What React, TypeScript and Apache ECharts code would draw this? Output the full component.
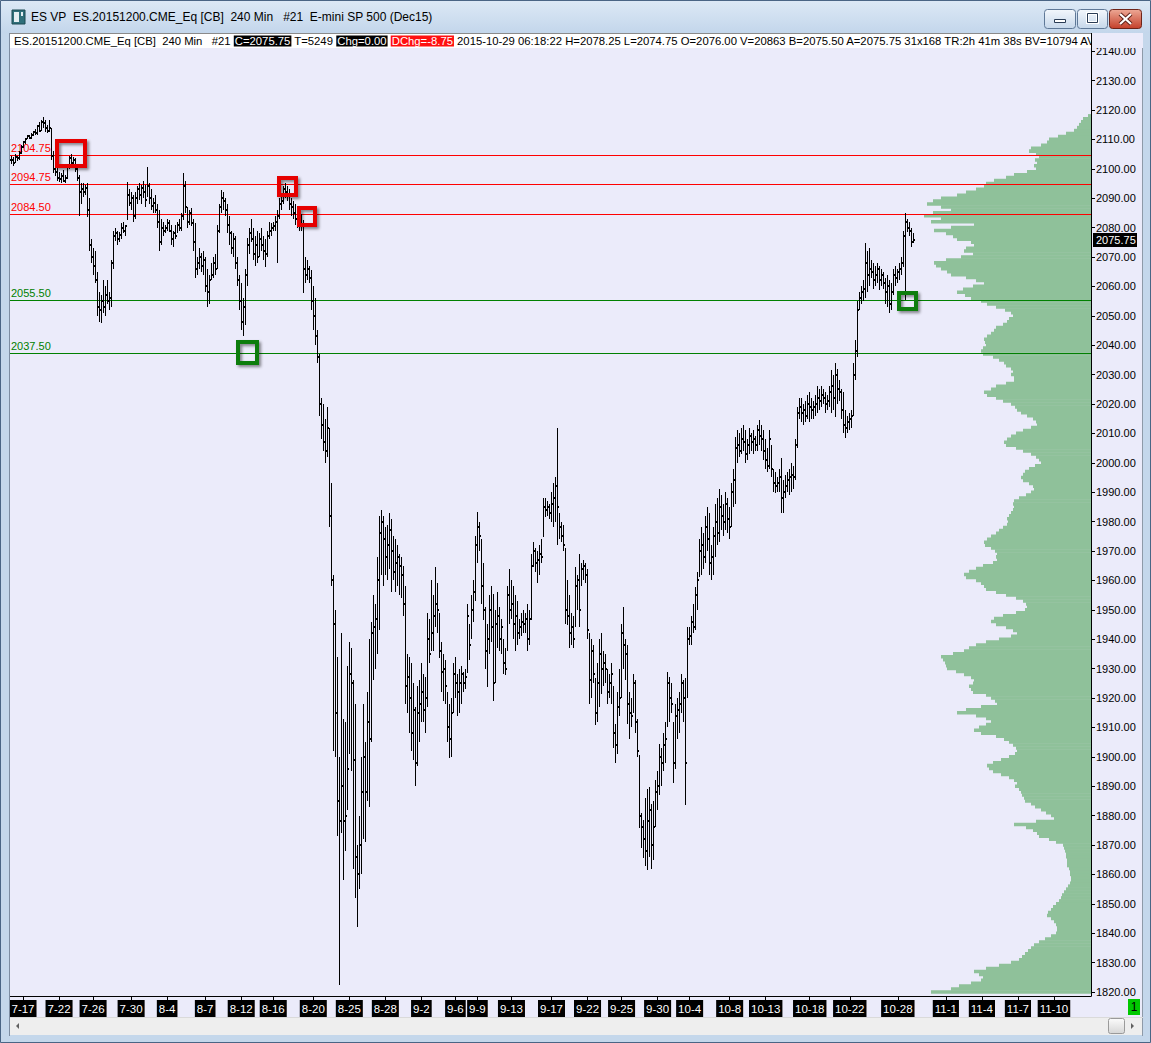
import React, { useEffect, useRef } from 'react';
import * as echarts from 'echarts';

const W = 1151;
const H = 1043;
const FONT = '"Liberation Sans", Arial, sans-serif';
const BG = '#ebebfa';

// ---- 240-min bars (one per slot, in order) ----
const barHigh = [
  2104.5,2104,2105,2104.5,2106,2108,2109.5,2110.5,2111.5,2111.5,
  2112,2113,2113.5,2115,2116,2116.75,2117.5,2116.5,2115,2116.5,
  2114,2106,2103,2101,2099,2098.5,2099.5,2098,2101.5,2104.5,
  2105,2104,2103.5,2101,2098,2095,2095,2094.5,2095,2090,
  2076,2073,2072,2065,2058,2057,2062,2060,2062,2058,
  2069,2079,2080,2079,2078.5,2081.5,2082,2081,2095.5,2093,
  2092,2091,2092,2094,2095,2094.5,2096,2094.5,2100.5,2095,
  2093,2090,2091,2088,2086,2083,2082,2081,2083,2082.5,
  2081,2079,2081,2082,2083,2085,2098.5,2096,2087,2086,
  2086.5,2083,2081.5,2070,2073,2071.5,2072,2070,2066,2064,
  2068,2070,2071,2081,2088,2092.75,2092,2090,2088,2084,
  2079,2078,2077,2070,2064,2061,2056,2066,2076.5,2080,
  2083,2080,2077,2079,2078,2080,2077,2076,2079,2082,
  2081.5,2082,2084,2086,2090,2091,2094,2095,2094,2093,
  2090,2089,2088,2086,2085,2084.5,2082.5,2070,2069,2067,
  2065.5,2060,2056,2045,2037,2022,2020,2015,2019,2012,
  1993,1962,1950,1934,1900,1942,1913,1912,1931,1939,
  1937,1926,1918,1870,1880,1900,1918,1905,1922,1940,
  1946,1955,1952,1968,1982,1984,1982,1978,1979,1983,
  1981,1975,1974,1972,1969,1968,1965,1958,1935,1934,
  1932,1925,1917,1924,1926,1932,1928,1927,1949,1947,
  1960,1955,1964.5,1959,1949,1939,1935,1933,1922,1918,
  1920,1932,1934,1928,1930,1931,1929,1930,1952,1945,
  1955,1960,1975,1983.25,1980,1974,1966,1951,1945,1955,
  1958,1955.5,1950,1956,1951,1947,1940,1937,1958,1964,
  1960,1958,1955,1953,1947,1949,1950,1949,1952,1950,
  1969,1973,1971,1970,1972,1974,1988,1988,1987,1986,
  1990,1993,1995,2011.75,1983,1980,1979,1971,1960,1955,
  1949,1948,1964.5,1962,1969,1966,1967,1966,1964,1942,
  1940,1938,1926.75,1932,1940,1942,1936,1935,1930,1928,
  1932,1924,1911,1922,1930,1945,1951,1940,1938,1922,
  1920,1928,1926,1913,1900.5,1881,1878.5,1886,1889,1889.75,
  1884,1885,1892,1895,1904.5,1903,1908,1912,1929,1927,
  1925,1912,1918,1920,1922,1928,1926,1926.75,1944,1944,
  1948,1952,1957.75,1963,1974,1978,1976,1982,1985,1983,
  1972,1978,1986,1988,1991,1989,1986,1990,1988,1985,
  1993,1998,2008.75,2011,2010,2012,2013,2011,2008,2012,
  2010,2011,2009,2013,2014.5,2013,2011,2008,2005,2011,
  2006,1998,1997,1995,1998,2001.5,1994,1996,1997,1998,
  2000,1999,2008,2019,2022,2022,2020,2021,2023,2024,
  2022,2021,2023,2026,2025,2026,2025,2024,2023,2026,
  2031.5,2030,2034,2032,2028,2025,2024,2018,2016,2017,
  2018,2034,2041.75,2055,2058,2060,2062,2074.75,2072,2073,
  2069,2068,2067,2068,2067,2066,2065,2063,2064,2062,
  2061,2066,2067,2066,2068,2070,2079,2085,2083,2082,
  2080,2078.25,
];
const barLow = [
  2101.5,2101,2102,2102.5,2103,2105,2107,2108.5,2110,2110.25,
  2110,2111,2111.5,2111.5,2112.5,2113,2114,2112.5,2112,2112.5,
  2103,2098.5,2097.5,2096,2095.5,2095,2095.5,2095,2096.5,2100,
  2101.5,2100.5,2099,2096,2084,2088,2090.5,2091,2083.5,2072,
  2068,2064,2061,2050,2048,2047.5,2051,2050,2054,2052,
  2053,2066,2075.5,2074,2075,2076,2078,2077,2082.5,2087.5,
  2086,2082,2083,2088,2089.5,2088,2090,2087,2090.5,2088,
  2086,2085,2085,2080,2072,2074,2077,2078,2079,2078.5,
  2074,2073.5,2076,2078,2079,2079,2082.5,2085,2080,2081,
  2080.5,2072,2063,2064,2066,2065,2064,2058,2053,2054,
  2062,2063,2064,2066,2078,2085,2086,2084,2078,2074,
  2071,2070,2066,2060,2052,2045,2043,2047,2060,2071,
  2075,2069,2067,2068,2070,2072,2069,2066.5,2070,2076,
  2077,2079,2079,2068,2083,2086,2088,2090,2089,2086,
  2084,2083,2081,2080,2079,2079,2057.75,2061,2062,2061,
  2052,2045,2040,2034,2016,2008,2004,2000,2002,1978,
  1958,1902,1900,1873,1822.25,1874,1858,1868,1882,1901,
  1895,1862,1852,1842,1855,1860,1872,1871,1885,1883,
  1905,1926,1930,1935,1943,1962,1958,1962,1960,1964,
  1956,1960,1956,1958,1955,1954,1948,1918,1915,1908,
  1902,1899,1890,1897,1905,1912,1912,1908,1917,1932,
  1936,1936,1944,1942,1933.5,1922,1919,1918,1905,1899.5,
  1900,1915,1920,1914,1915,1918,1922,1923,1928.5,1933,
  1940,1946,1953,1966,1970,1952,1946.5,1930,1923.75,1935,
  1939,1919,1925,1937,1936,1935,1928,1927.75,1936,1945,
  1947,1940,1936,1938,1940,1941,1942,1942,1936,1938,
  1946.5,1964.5,1963,1959,1962,1966,1974.75,1981.5,1982,1981,
  1980,1978,1980,1972,1974,1973,1970,1945,1944.75,1937,
  1938,1937,1944,1950,1944,1958,1960,1959,1940,1918,
  1920,1925,1910.75,1912,1917,1921.5,1924,1925,1918,1920,
  1918,1903,1898,1901,1914,1920,1930,1926,1911,1906,
  1910,1915,1908,1900,1875.75,1869,1865.5,1863,1861.5,1866,
  1862,1865,1876,1882,1887,1890,1895,1898,1910,1912,
  1915,1891,1896,1906,1908,1915,1912,1883.5,1920,1938,
  1938,1942,1943,1950,1961,1962,1964,1966,1970,1962,
  1960,1962,1968,1972,1973,1977,1975,1977,1976,1974,
  1978,1985,1986,2000,2002,2003,2004,2000,2001,2003,
  2004,2003,2004,2004,2006,2004,2001,1998,1996.75,1998,
  1995,1990,1989.75,1990,1990,1983,1983,1988,1990,1989,
  1990,1991,1994,2005,2015,2014,2013,2014,2015,2014,
  2015,2015,2016,2017,2018,2019,2020,2017,2018,2019,
  2017,2018,2015.5,2020,2021,2015,2010,2008.5,2010,2011,
  2012,2016,2028,2036,2052,2054,2055,2056,2058,2060,
  2063,2059,2060,2061,2058.75,2060,2059,2054,2053,2051,
  2052,2057,2060,2061,2062,2064,2066.5,2055.25,2078.5,2077,
  2073.25,2074.75,
];
const barClose = [
  2103,2102,2104,2103.5,2105.5,2107.5,2109,2110,2111,2110.5,
  2111.5,2112.5,2112,2114.5,2113,2116,2115.5,2114,2113,2114,
  2104.5,2100,2099,2097,2096.5,2097.5,2096,2097,2101,2103.5,
  2102,2103,2100,2097,2092,2093,2092,2093.5,2086,2074,
  2070,2067,2062,2053,2052,2055,2053,2057,2055,2056,
  2068,2077,2078,2076,2077.5,2080,2079,2080.5,2091,2088.5,
  2090,2084,2090,2093,2091,2093.5,2092,2089.5,2094,2090,
  2087.5,2088.5,2086,2082,2075,2080,2079,2080,2081.5,2079,
  2076,2078,2077,2081,2080,2084,2094,2087,2082,2085,
  2081.5,2075,2066,2068,2070,2067,2069,2060,2058,2062,
  2064,2068,2066,2079,2087,2090,2089,2086,2081,2078,
  2073,2076,2068,2062,2055,2048,2053,2064,2074,2078,
  2076,2071,2074,2070,2076,2074,2072,2071,2077,2079,
  2080,2080.5,2082,2084,2088,2089,2093,2092,2091,2088,
  2087,2085,2083,2082,2083,2081,2066,2064,2066,2063,
  2055,2050,2043,2036,2020,2013,2007,2004,2012,1982,
  1960,1945,1915,1885,1878,1890,1878,1880,1896,1928,
  1925,1899,1866,1860,1870,1888,1900,1888,1912,1906,
  1942,1944,1947,1960,1976,1980,1974,1968,1972,1977,
  1970,1963,1966,1968,1965,1962,1952,1924,1927,1920,
  1908,1916,1898,1915,1918,1922,1916,1920,1940,1935,
  1942,1948,1952,1950,1936,1929,1930,1924,1910,1906,
  1915,1928,1925,1922,1925,1928,1925,1927,1948,1938,
  1950,1956,1972,1978,1975,1958,1950,1936,1940,1950,
  1944,1925,1945,1948,1940,1944,1932,1930,1955,1950,
  1952,1945,1948,1942,1944,1946,1945,1947,1940,1947,
  1965,1970,1966,1967,1969,1968,1985,1984,1985,1983,
  1986,1988,1992,1985,1978,1975,1972,1950,1948,1942,
  1944,1940,1958,1960,1950,1964,1965,1962,1943,1926,
  1936,1928,1915,1925,1935,1930,1932,1930,1922,1925,
  1928,1908,1904,1917,1920,1942,1938,1935,1918,1915,
  1914,1925,1912,1902,1880,1876,1872,1868,1878,1882,
  1870,1876,1888,1890,1900,1898,1904,1906,1925,1920,
  1918,1898,1914,1916,1918,1925,1920,1898,1940,1941,
  1946,1944,1955,1960,1970,1972,1968,1978,1974,1966,
  1968,1975,1980,1976,1985,1982,1980,1986,1981,1978,
  1990,1994,2005,2006,2004,2008,2007,2003,2006,2009,
  2007,2008,2006,2011,2009,2008,2004,2001,1999,2008,
  1998,1993,1992,1993,1995,1988,1990,1992,1994,1995,
  1996,1995,2006,2017,2019,2017,2018,2016,2020,2019,
  2018,2019,2020,2022,2021,2023,2022,2020,2021,2024,
  2026,2022,2030,2025,2024,2018,2013,2012,2014,2015,
  2016,2030,2038,2052,2056,2058,2059,2068,2064,2066,
  2065,2062,2064,2066,2062,2064,2061,2058,2060,2054,
  2058,2064,2063,2065,2066,2068,2077,2082,2080,2079,
  2075,2075.75,
];

// ---- time axis ----
const totalSlots = 540;
const dateLabels = ['7-17','7-22','7-26','7-30','8-4','8-7','8-12','8-16','8-20','8-25','8-28','9-2','9-6','9-9','9-13','9-17','9-22','9-25','9-30','10-4','10-8','10-13','10-18','10-22','10-28','11-1','11-4','11-7','11-10'];
const dateLabelSlots = [6,24,41,60,78,97,115,131,151,169,187,205,222,233,250,270,288,305,323,339,359,377,399,419,443,467,485,503,521];

// ---- price axis ----
const yTickValues = [1820,1830,1840,1850,1860,1870,1880,1890,1900,1910,1920,1930,1940,1950,1960,1970,1980,1990,2000,2010,2020,2030,2040,2050,2060,2070,2080,2090,2100,2110,2120,2130,2140];
const yMin = 1818.64;
const yMax = 2145.84;

// ---- horizontal levels ----
const levelPrices = [2104.75, 2094.75, 2084.5, 2055.5, 2037.5];
const levelKinds = ['r', 'r', 'r', 'g', 'g'];

// ---- annotation boxes ----
const boxSlots = [30, 138, 148, 118, 448];
const boxPrices = [2105.1, 2093.9, 2083.7, 2037.45, 2055.0];
const boxKinds = ['r', 'r', 'r', 'g', 'g'];
const boxSizes = [[32, 29], [21, 21], [20, 21], [23, 25], [21, 20]];

// ---- volume profile, one value per 1-point level from profileStart ----
const profileStart = 1820;
const profileVolume = [
  160,140,132,120,110,108,112,117,105,92,
  80,72,69,66,63,60,57,52,46,40,
  35,34,34,35,37,40,44,43,40,38,
  35,32,30,29,27,25,23,21,20,20,
  21,21,22,24,24,24,25,25,26,27,
  28,35,42,52,54,58,65,77,55,37,
  40,45,50,56,60,66,67,69,70,72,
  76,74,77,82,90,98,102,104,98,90,
  82,76,74,75,78,82,87,95,110,117,
  112,105,100,105,115,134,125,110,94,96,
  100,105,118,120,122,118,117,120,127,135,
  144,145,146,148,150,138,127,122,115,105,
  92,80,74,78,85,95,100,97,88,75,
  66,64,65,68,75,85,95,105,107,110,
  115,125,127,122,115,108,98,94,95,94,
  96,100,106,107,104,100,95,92,88,84,
  83,84,82,80,78,77,78,77,72,65,
  60,57,58,62,68,70,68,66,62,56,
  50,52,55,60,68,75,85,87,84,80,
  75,68,60,54,55,58,64,70,74,76,
  80,88,95,104,107,100,95,85,77,77,
  80,78,80,85,87,92,98,108,110,108,
  105,106,107,104,100,97,95,88,84,82,
  78,80,86,95,104,110,120,126,134,128,
  118,107,115,125,140,144,150,155,157,145,
  130,118,127,125,117,120,134,138,145,157,
  140,117,160,150,167,158,140,150,164,158,
  150,134,125,115,107,105,97,85,77,64,
  55,57,54,56,52,55,62,60,50,44,
  42,33,25,17,14,12,10,8,3,
];
const profileAxisMax = 1081;

const titleText = 'ES VP\u00a0 ES.20151200.CME_Eq [CB]\u00a0 240 Min\u00a0\u00a0 #21\u00a0 E-mini SP 500 (Dec15)';
const infoRich =
  '{n|ES.20151200.CME_Eq [CB]\u00a0 240 Min\u00a0\u00a0 #21 }{b|C=2075.75}{n| T=5249 }{b|Chg=0.00}{n| }{r|DChg=-8.75}' +
  '{n| 2015-10-29 06:18:22 H=2078.25 L=2074.75 O=2076.00 V=20863 B=2075.50 A=2075.75 31x168 TR:2h 41m 38s BV=10794 AV=1}';

const COLORS: Record<string, string> = { r: '#ff0000', g: '#008000' };
const BOX_COLORS: Record<string, string> = { r: '#e60000', g: '#0b7d0b' };
const INFO_FS = 11.3;

function grad(c1: string, c2: string) {
  return new echarts.graphic.LinearGradient(0, 0, 0, 1, [
    { offset: 0, color: c1 },
    { offset: 1, color: c2 },
  ]);
}

function buildOption() {
  const slotNames = Array.from({ length: totalSlots }, (_, i) => {
    const k = dateLabelSlots.indexOf(i);
    return k >= 0 ? dateLabels[k] : '';
  });
  const showSlot = (_idx: number, val: string) => val !== '';

  const bars = barHigh.map((h, i) => [i, i === 0 ? barClose[0] : barClose[i - 1], barClose[i], barLow[i], h]);
  const profile = profileVolume.map((v, k) => [v, profileStart + k]);
  const levels = levelPrices.map((p, k) => [0, p, k]);
  const boxes = boxSlots.map((s, k) => [s, boxPrices[k], k]);
  const lastIdx = barClose.length - 1;

  const frame = '#c4d7eb';
  const graphic: any[] = [
    // title bar
    { type: 'rect', z: 100, shape: { x: 0, y: 0, width: W, height: 33 }, style: { fill: grad('#dde9f6', '#c3d6eb') } },
    { type: 'rect', z: 101, shape: { x: 12, y: 10, width: 13, height: 14 }, style: { fill: '#2f6f7a', stroke: '#1d4a52', lineWidth: 1 } },
    { type: 'rect', z: 102, shape: { x: 14, y: 12, width: 5, height: 10 }, style: { fill: '#e4eef2' } },
    { type: 'rect', z: 102, shape: { x: 21, y: 12, width: 2, height: 4 }, style: { fill: '#e4eef2' } },
    { type: 'text', z: 101, x: 31, y: 17, style: { text: titleText, fill: '#000', fontSize: 12, fontFamily: FONT, verticalAlign: 'middle', align: 'left' } },
    // window buttons
    { type: 'rect', z: 101, shape: { x: 1044.5, y: 9.5, width: 31, height: 19, r: 3 }, style: { fill: grad('#f3f7fc', '#c6d7ea'), stroke: '#5f7897', lineWidth: 1 } },
    { type: 'rect', z: 102, shape: { x: 1054.5, y: 19.5, width: 11, height: 3 }, style: { fill: '#fff', stroke: '#2a3c55', lineWidth: 1 } },
    { type: 'rect', z: 101, shape: { x: 1077.5, y: 9.5, width: 30, height: 19, r: 3 }, style: { fill: grad('#f3f7fc', '#c6d7ea'), stroke: '#5f7897', lineWidth: 1 } },
    { type: 'rect', z: 102, shape: { x: 1087.5, y: 13.5, width: 10, height: 9 }, style: { fill: 'none', stroke: '#fff', lineWidth: 3 } },
    { type: 'rect', z: 103, shape: { x: 1087.5, y: 13.5, width: 10, height: 9 }, style: { fill: 'none', stroke: '#2a3c55', lineWidth: 1 } },
    { type: 'rect', z: 101, shape: { x: 1109.5, y: 9.5, width: 32, height: 19, r: 3 }, style: { fill: grad('#eda895', '#c43f2a'), stroke: '#6e2419', lineWidth: 1 } },
    { type: 'line', z: 102, shape: { x1: 1120, y1: 14, x2: 1131, y2: 24 }, style: { stroke: '#5a1e16', lineWidth: 4 } },
    { type: 'line', z: 102, shape: { x1: 1131, y1: 14, x2: 1120, y2: 24 }, style: { stroke: '#5a1e16', lineWidth: 4 } },
    { type: 'line', z: 103, shape: { x1: 1120, y1: 14, x2: 1131, y2: 24 }, style: { stroke: '#fff', lineWidth: 2.2 } },
    { type: 'line', z: 103, shape: { x1: 1131, y1: 14, x2: 1120, y2: 24 }, style: { stroke: '#fff', lineWidth: 2.2 } },
    // side and bottom frame
    { type: 'rect', z: 100, shape: { x: 0, y: 33, width: 10, height: H - 33 }, style: { fill: frame } },
    { type: 'line', z: 101, shape: { x1: 9.5, y1: 33, x2: 9.5, y2: 1036 }, style: { stroke: '#7d8da2', lineWidth: 1 } },
    { type: 'rect', z: 100, shape: { x: 1143, y: 33, width: 8, height: H - 33 }, style: { fill: frame } },
    { type: 'line', z: 101, shape: { x1: 1142.5, y1: 33, x2: 1142.5, y2: 1036 }, style: { stroke: '#8e9aa8', lineWidth: 1 } },
    { type: 'rect', z: 100, shape: { x: 0, y: 1035, width: W, height: 8 }, style: { fill: frame } },
    { type: 'rect', z: 110, shape: { x: 0.5, y: 0.5, width: W - 1, height: H - 1 }, style: { fill: 'none', stroke: '#4a6585', lineWidth: 1 } },
    // scrollbar
    { type: 'rect', z: 100, shape: { x: 10, y: 1017, width: 1133, height: 18 }, style: { fill: '#eeeeee' } },
    { type: 'line', z: 101, shape: { x1: 10, y1: 1017.5, x2: 1143, y2: 1017.5 }, style: { stroke: '#dadada', lineWidth: 1 } },
    { type: 'polygon', z: 101, shape: { points: [[16, 1026], [19, 1023], [19, 1029]] }, style: { fill: '#606060' } },
    { type: 'rect', z: 101, shape: { x: 1108.5, y: 1018.5, width: 16, height: 15, r: 2 }, style: { fill: grad('#fbfbfb', '#d6d6d6'), stroke: '#9a9a9a', lineWidth: 1 } },
    { type: 'polygon', z: 101, shape: { points: [[1131, 1023], [1134, 1026], [1131, 1029]] }, style: { fill: '#606060' } },
    // green status box
    { type: 'rect', z: 101, shape: { x: 1128, y: 999, width: 12, height: 16 }, style: { fill: '#00c800' } },
    { type: 'text', z: 102, x: 1134, y: 1007, style: { text: '1', fill: '#000', fontSize: 12, fontFamily: FONT, align: 'center', verticalAlign: 'middle' } },
    // info bar
    { type: 'rect', z: 100, shape: { x: 10, y: 33, width: 1082, height: 15 }, style: { fill: '#ffffff' } },
    { type: 'line', z: 101, shape: { x1: 10, y1: 33.5, x2: 1092, y2: 33.5 }, style: { stroke: '#8a8a8a', lineWidth: 1 } },
    {
      type: 'text', z: 101, x: 14, y: 41,
      style: {
        text: infoRich, fontSize: INFO_FS, fontFamily: FONT, verticalAlign: 'middle', align: 'left', fill: '#000',
        rich: {
          n: { fill: '#000', fontSize: INFO_FS, fontFamily: FONT, lineHeight: 14 },
          b: { fill: '#ffffff', backgroundColor: '#000000', fontSize: INFO_FS, fontFamily: FONT, lineHeight: 14, padding: [0, 1, 0, 1] },
          r: { fill: '#ffffff', backgroundColor: '#ff1010', fontSize: INFO_FS, fontFamily: FONT, lineHeight: 14, padding: [0, 1, 0, 1] },
        },
      },
    },
    { type: 'rect', z: 105, shape: { x: 1092, y: 33, width: 51, height: 15 }, style: { fill: BG } },
    { type: 'line', z: 106, shape: { x1: 1091.5, y1: 33, x2: 1091.5, y2: 48 }, style: { stroke: '#000', lineWidth: 1 } },
  ];

  return {
    animation: false,
    backgroundColor: BG,
    textStyle: { fontFamily: FONT },
    grid: { left: 10, right: 60, top: 34, bottom: 47, containLabel: false },
    xAxis: [
      {
        type: 'category',
        data: slotNames,
        boundaryGap: true,
        axisLine: { show: true, lineStyle: { color: '#000', width: 1 } },
        axisTick: { show: true, interval: showSlot, alignWithLabel: true, length: 4, lineStyle: { color: '#000' } },
        axisLabel: {
          interval: showSlot, color: '#fff', backgroundColor: '#000', padding: [3, 2, 2, 2],
          fontSize: 11.5, fontFamily: FONT, margin: 4,
        },
        splitLine: { show: false },
      },
      { type: 'value', min: 0, max: profileAxisMax, inverse: true, show: false },
    ],
    yAxis: {
      type: 'value', position: 'right', min: yMin, max: yMax, scale: true,
      axisLine: { show: true, lineStyle: { color: '#000', width: 1 } },
      axisTick: { show: true, length: 4, customValues: yTickValues, lineStyle: { color: '#000' } },
      axisLabel: { customValues: yTickValues, formatter: (v: number) => v.toFixed(2), color: '#000', fontSize: 11, fontFamily: FONT, margin: 5 },
      splitLine: { show: false },
    },
    graphic,
    series: [
      {
        type: 'custom', name: 'profile', xAxisIndex: 1, yAxisIndex: 0, z: 1, silent: true,
        encode: { x: 0, y: 1 },
        data: profile,
        renderItem: (_p: any, api: any) => {
          const v = api.value(0);
          const pr = api.value(1);
          const a = api.coord([0, pr + 0.5]);
          const b = api.coord([v, pr - 0.5]);
          return {
            type: 'rect',
            shape: { x: b[0], y: a[1] - 0.3, width: a[0] - b[0], height: b[1] - a[1] + 0.6 },
            style: { fill: '#8fc19a' },
          };
        },
      },
      {
        type: 'custom', name: 'levels', xAxisIndex: 0, yAxisIndex: 0, z: 2, silent: true,
        encode: { x: 0, y: 1 },
        data: levels,
        renderItem: (params: any, api: any) => {
          const pr = api.value(1);
          const k = api.value(2);
          const cs = params.coordSys;
          const y = Math.round(api.coord([0, pr])[1]) + 0.5;
          const col = COLORS[levelKinds[k]];
          return {
            type: 'group',
            children: [
              { type: 'line', shape: { x1: cs.x, y1: y, x2: cs.x + cs.width, y2: y }, style: { stroke: col, lineWidth: 1 } },
              { type: 'text', x: cs.x + 1, y: y - 2.5, style: { text: pr.toFixed(2), fill: col, fontSize: 11, fontFamily: FONT, align: 'left', verticalAlign: 'bottom' } },
            ],
          };
        },
      },
      {
        type: 'custom', name: 'ES 240 Min', xAxisIndex: 0, yAxisIndex: 0, z: 3, silent: true,
        encode: { x: 0, y: [1, 2, 3, 4] },
        data: bars,
        renderItem: (_p: any, api: any) => {
          const i = api.value(0);
          const hi = api.coord([i, api.value(4)]);
          const lo = api.coord([i, api.value(3)]);
          const op = api.coord([i, api.value(1)]);
          const cl = api.coord([i, api.value(2)]);
          const x = Math.floor(hi[0]);
          const top = Math.round(hi[1]);
          const bot = Math.max(Math.round(lo[1]), top + 1);
          return {
            type: 'group',
            children: [
              { type: 'rect', shape: { x, y: top, width: 1, height: bot - top }, style: { fill: '#000' } },
              { type: 'rect', shape: { x: x - 1, y: Math.round(op[1]) - 1, width: 1, height: 2 }, style: { fill: '#000' } },
              { type: 'rect', shape: { x: x + 1, y: Math.round(cl[1]) - 1, width: 1, height: 2 }, style: { fill: '#000' } },
            ],
          };
        },
      },
      {
        type: 'custom', name: 'boxes', xAxisIndex: 0, yAxisIndex: 0, z: 4, silent: true,
        encode: { x: 0, y: 1 },
        data: boxes,
        renderItem: (_p: any, api: any) => {
          const k = api.value(2);
          const c = api.coord([api.value(0), api.value(1)]);
          const [w, h] = boxSizes[k];
          return {
            type: 'rect',
            shape: { x: Math.round(c[0] - w / 2) + 2, y: Math.round(c[1] - h / 2) + 2, width: w - 4, height: h - 4 },
            style: {
              fill: 'none', stroke: BOX_COLORS[boxKinds[k]], lineWidth: 4,
              shadowBlur: 3, shadowOffsetX: 2, shadowOffsetY: 2, shadowColor: 'rgba(0,0,0,0.45)',
            },
          };
        },
      },
      {
        type: 'custom', name: 'last', xAxisIndex: 0, yAxisIndex: 0, z: 5, silent: true,
        encode: { x: 0, y: 1 },
        data: [[lastIdx, barClose[lastIdx]]],
        renderItem: (params: any, api: any) => {
          const cs = params.coordSys;
          const y = Math.round(api.coord([api.value(0), api.value(1)])[1]);
          const x0 = cs.x + cs.width + 2;
          return {
            type: 'group',
            children: [
              { type: 'rect', shape: { x: x0, y: y - 7, width: 44, height: 14 }, style: { fill: '#000' } },
              { type: 'text', x: x0 + 3, y, style: { text: api.value(1).toFixed(2), fill: '#fff', fontSize: 11, fontFamily: FONT, align: 'left', verticalAlign: 'middle' } },
            ],
          };
        },
      },
    ],
  };
}

export default function App() {
  const ref = useRef<HTMLDivElement>(null);
  useEffect(() => {
    document.body.style.margin = '0';
    const chart = echarts.init(ref.current as HTMLDivElement, null, { renderer: 'svg', width: W, height: H });
    chart.setOption(buildOption() as any);
    return () => chart.dispose();
  }, []);
  return <div ref={ref} style={{ width: W, height: H, position: 'absolute', left: 0, top: 0 }} />;
}
